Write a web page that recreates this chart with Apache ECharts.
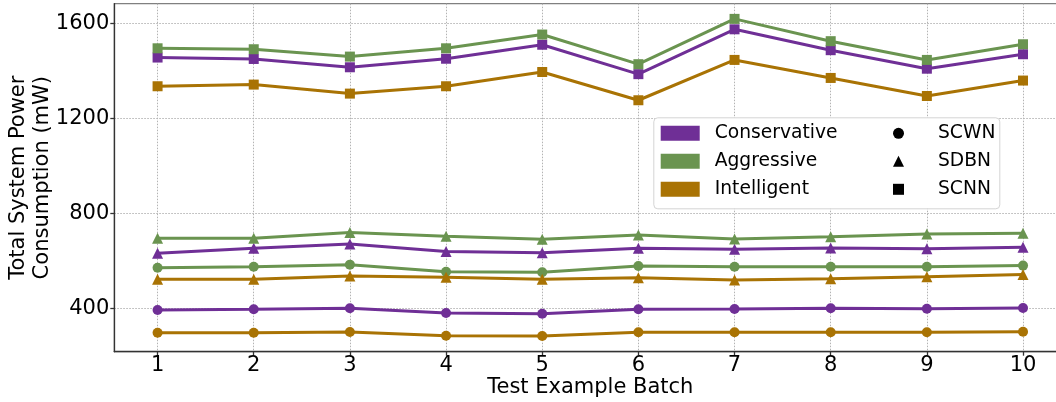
<!DOCTYPE html>
<html>
<head>
<meta charset="utf-8">
<script src="https://cdn.jsdelivr.net/npm/echarts@6/dist/echarts.min.js"></script>
<style>
  html, body { margin: 0; padding: 0; background: #ffffff; }
  #chart { width: 1056px; height: 402px; }
</style>
</head>
<body>
<div id="chart"></div>
<script>
// Test batches on the x axis
const batches = [1, 2, 3, 4, 5, 6, 7, 8, 9, 10];
const yTickValues = [400, 800, 1200, 1600];

const strategies = ['Conservative', 'Aggressive', 'Intelligent'];
const models = ['SCWN', 'SDBN', 'SCNN'];

// Total system power (mW) per batch
const conservativeSCWN = [393, 396, 400, 380, 377, 396, 397, 400, 398, 401];
const conservativeSDBN = [632, 653, 671, 639, 634, 653, 649, 654, 651, 657];
const conservativeSCNN = [1457, 1451, 1416, 1452, 1511, 1387, 1576, 1488, 1410, 1471];

const aggressiveSCWN = [571, 575, 584, 554, 552, 578, 575, 575, 575, 580];
const aggressiveSDBN = [695, 695, 719, 704, 691, 709, 692, 702, 713, 716];
const aggressiveSCNN = [1496, 1492, 1461, 1496, 1554, 1429, 1620, 1526, 1447, 1513];

const intelligentSCWN = [297, 297, 300, 284, 283, 299, 299, 299, 299, 301];
const intelligentSDBN = [522, 522, 536, 531, 522, 529, 519, 525, 533, 542];
const intelligentSCNN = [1336, 1343, 1305, 1336, 1396, 1277, 1447, 1371, 1295, 1360];

const values = {
  Conservative: { SCWN: conservativeSCWN, SDBN: conservativeSDBN, SCNN: conservativeSCNN },
  Aggressive:   { SCWN: aggressiveSCWN,   SDBN: aggressiveSDBN,   SCNN: aggressiveSCNN },
  Intelligent:  { SCWN: intelligentSCWN,  SDBN: intelligentSDBN,  SCNN: intelligentSCNN }
};

const strategyColor = { Conservative: '#6f2f96', Aggressive: '#6a9450', Intelligent: '#a97304' };
const modelSymbol = { SCWN: 'circle', SDBN: 'triangle', SCNN: 'rect' };
const modelSymbolSize = { SCWN: 10, SDBN: 11, SCNN: 10 };

const FONT = '"DejaVu Sans", sans-serif';

const series = [];
strategies.forEach(s => {
  models.forEach(m => {
    series.push({
      name: s + ' ' + m,
      type: 'line',
      data: batches.map((b, i) => [b, values[s][m][i]]),
      symbol: modelSymbol[m],
      symbolSize: modelSymbolSize[m],
      showAllSymbol: true,
      color: strategyColor[s],
      lineStyle: { width: 3, color: strategyColor[s] },
      itemStyle: { color: strategyColor[s] },
      emphasis: { disabled: true },
      z: 3
    });
  });
});
// Legend-only entries: strategy colours and model markers
strategies.forEach(s => {
  series.push({ name: s, type: 'line', data: [], color: strategyColor[s], itemStyle: { color: strategyColor[s] } });
});
models.forEach(m => {
  series.push({ name: m, type: 'line', data: [], color: '#000000', itemStyle: { color: '#000000' } });
});

const axisLineStyle = { color: '#333333', width: 1.3 };
const gridLineStyle = { color: '#b3b3b3', width: 1, type: [1.5, 1.5] };

const option = {
  animation: false,
  backgroundColor: '#ffffff',
  grid: {
    left: 114.3, top: 3.7, width: 952, height: 348,
    outerBoundsMode: 'none', containLabel: false,
    show: true, borderColor: '#808080', borderWidth: 1.3, backgroundColor: 'transparent'
  },
  xAxis: {
    type: 'value', min: 0.55, max: 10.45,
    axisLine: { show: true, onZero: false, lineStyle: axisLineStyle },
    axisTick: { show: true, length: 4, customValues: batches, lineStyle: axisLineStyle },
    axisLabel: { customValues: batches, fontSize: 21, fontFamily: FONT, color: '#000', margin: 2, lineHeight: 24 },
    splitLine: { show: true, lineStyle: gridLineStyle },
    name: 'Test Example Batch', nameLocation: 'middle', nameGap: 24, nameMoveOverlap: false,
    nameTextStyle: { fontSize: 21, fontFamily: FONT, color: '#000', lineHeight: 24 }
  },
  yAxis: {
    type: 'value', min: 217, max: 1684,
    axisLine: { show: true, onZero: false, lineStyle: axisLineStyle },
    axisTick: { show: true, length: 4, customValues: yTickValues, lineStyle: axisLineStyle },
    axisLabel: {
      customValues: yTickValues, fontSize: 21, fontFamily: FONT, color: '#000', margin: 5,
      formatter: v => String(v)
    },
    splitLine: { show: true, lineStyle: gridLineStyle },
    name: 'Total System Power\nConsumption (mW)', nameLocation: 'middle', nameGap: 60, nameMoveOverlap: false,
    nameTextStyle: { fontSize: 21, fontFamily: FONT, color: '#000', lineHeight: 24 }
  },
  graphic: [{
    type: 'rect', left: 653.3, top: 117.3, z: 50,
    shape: { width: 346, height: 91, r: 4 },
    style: { fill: '#ffffff', stroke: '#d4d4d4', lineWidth: 1 }
  }],
  legend: [{
    data: strategies.map(n => ({ name: n, icon: 'rect' })),
    orient: 'vertical', left: 660.7, top: 123.3, padding: 0,
    itemWidth: 39, itemHeight: 15, itemGap: 8,
    selectedMode: false, z: 60,
    textStyle: { fontSize: 18.7, fontFamily: FONT, color: '#000', lineHeight: 20, padding: [0, 0, 0, 10] }
  }, {
    data: models.map(m => ({ name: m, icon: modelSymbol[m] })),
    orient: 'vertical', left: 893, top: 123.3, padding: 0,
    itemWidth: 11, itemHeight: 11, itemGap: 8,
    selectedMode: false, z: 60,
    textStyle: { fontSize: 18.7, fontFamily: FONT, color: '#000', lineHeight: 20, padding: [0, 0, 0, 29] }
  }],
  series: series
};

const chart = echarts.init(document.getElementById('chart'), null, { renderer: 'canvas' });
chart.setOption(option);
</script>
</body>
</html>
